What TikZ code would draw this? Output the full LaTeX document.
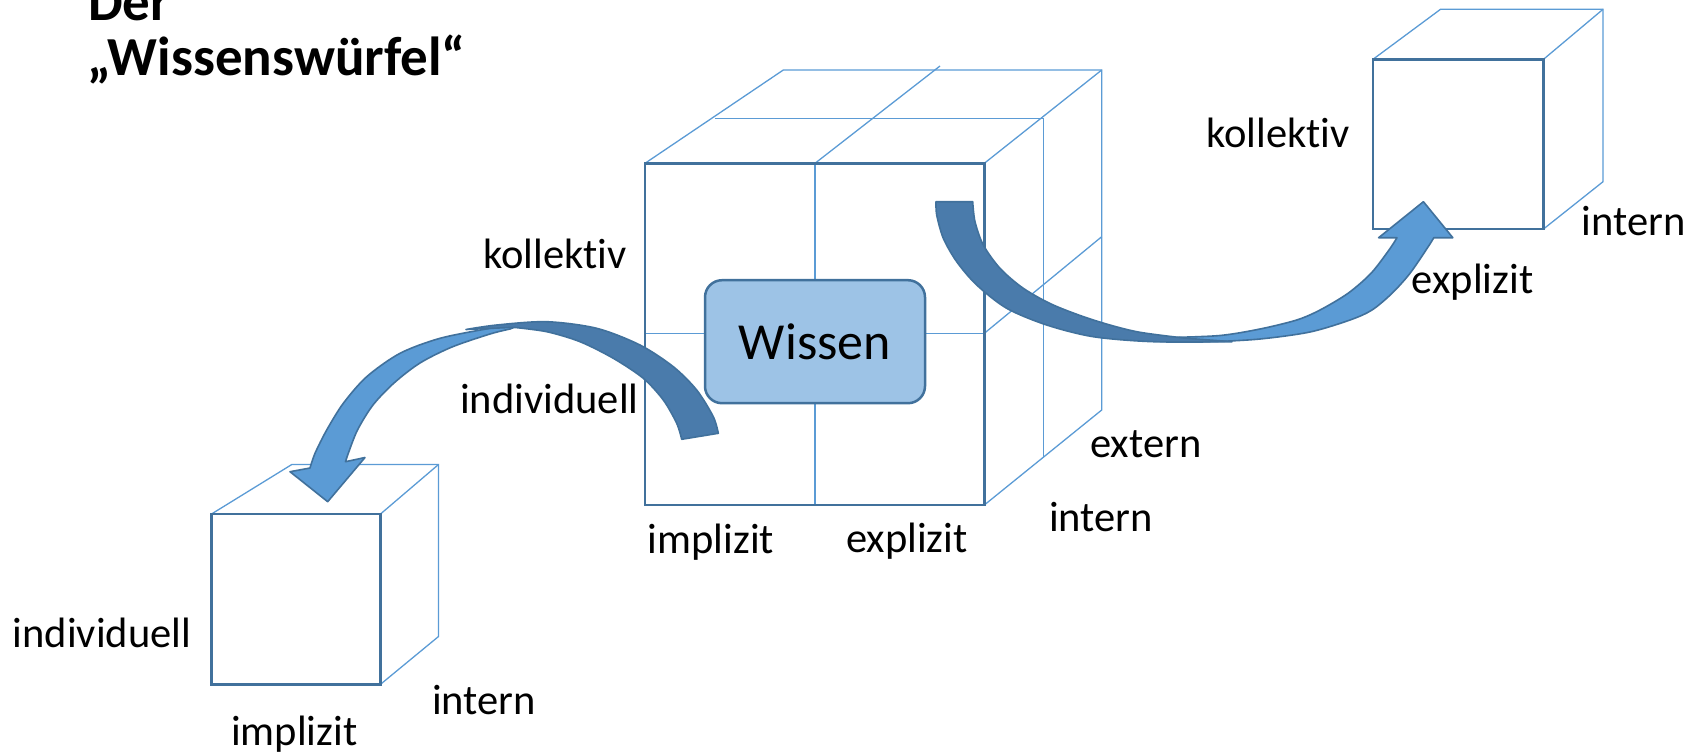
\documentclass[tikz,border=0pt]{standalone}
\usepackage{fontspec}
\setmainfont{Carlito}[Ligatures={NoCommon}]
\usepackage{xcolor}

\definecolor{edgeblue}{HTML}{41719C}
\definecolor{thinblue}{HTML}{5B9BD5}
\definecolor{boxblue}{HTML}{9DC3E6}
\definecolor{arrowlight}{HTML}{5B9BD5}
\definecolor{arrowdark}{HTML}{4A7BAB}

\tikzset{
  frontface/.style={draw=edgeblue, line width=2.5pt},
  backline/.style={draw=thinblue, line width=1.3pt},
  lbl/.style={anchor=base west, inner sep=0pt, font=\fontsize{42.5}{51}\selectfont},
  lightpart/.style={fill=arrowlight, draw=edgeblue, line width=1.6pt, line join=round},
  darkpart/.style={fill=arrowdark, draw=edgeblue, line width=1.6pt, line join=round}
}

\begin{document}
\begin{tikzpicture}[x=1pt,y=-1pt]
\useasboundingbox (0,0) rectangle (1697,753);
% title
\node[lbl, font=\fontsize{55}{62}\selectfont\bfseries] (title1) at (88,20.7) {Der};
\node[lbl, font=\fontsize{55}{62}\selectfont\bfseries] (title2) at (87,75) {„Wissenswürfel“};
% main cube
\def\mainfront{(645,163.3) rectangle (984.3,505)}
  \draw[backline] (645,163.3) -- (783.3,70) -- (1101.7,70) -- (1101.7,410) -- (984.3,505);
  \draw[backline] (715,118.3) -- (1043.3,118.3) -- (1043.3,458.3);
  \draw[backline] (984.3,163.3) -- (1101.7,70);
  \draw[backline] (815,163.3) -- (940,66);
  \draw[backline] (984.3,333.3) -- (1101.7,236.7);
  \draw[backline] (815,163.3) -- (815,505) (645,333.3) -- (984.3,333.3);
  \draw[frontface] \mainfront;
% right cube
  \draw[backline] (1373,59.3) -- (1440.5,9.3) -- (1603,9.3) -- (1603,181.7) -- (1543.5,229);
  \draw[backline] (1543.5,59.3) -- (1603,9.3);
  \draw[frontface] (1373,59.3) rectangle (1543.5,229);
% left cube
  \draw[backline] (211.5,514) -- (291.8,464.5) -- (438.5,464.5) -- (438.5,636.5) -- (380.5,684.3);
  \draw[backline] (380.5,514) -- (438.5,464.5);
  \draw[frontface] (211.5,514) rectangle (380.5,684.3);
% knowledge box
\node[draw=edgeblue, line width=2.5pt, fill=boxblue, rounded corners=17pt,
      minimum width=220pt, minimum height=123pt,
      font=\fontsize{52}{60}\selectfont] (wissen) at (815,341.7) {Wissen};
% arrow to the left cube
\filldraw[lightpart] plot[smooth] coordinates {(525,323) (490,328.3) (440,338.3) (400,353.3) (366.7,376.7) (343.3,403.3) (326.7,430) (315,453.3) (310,468)}
  -- (290,471.7) -- (327.7,501.7) -- (365,457.5)
  -- plot[smooth] coordinates {(345.5,461.7) (348.3,453.3) (357.5,430) (373,405) (394,383) (420,363) (452,347) (490,334) (510,329)} -- cycle;
\filldraw[darkpart] plot[smooth] coordinates {(718.3,433.3) (713.3,416.7) (696.7,390) (673.3,366.7) (640,345) (596.7,328.3) (546.7,321.7) (496.7,325) (466,329.5)}
  -- plot[smooth] coordinates {(513.3,327.3) (546.7,331.7) (580,341.7) (613.3,358.3) (643.3,378.3) (663.3,400) (676.7,423.3) (681.7,439.3)} -- cycle;
% arrow to the right cube
\filldraw[lightpart] plot[smooth] coordinates {(1170,337.5) (1220,335.5) (1260,329) (1296.7,320) (1320,310) (1348,293.3) (1371,273.3) (1389,250) (1397,237.7)}
  -- (1378.6,237.7) -- (1423.4,201.7) -- (1452.8,237.7)
  -- plot[smooth] coordinates {(1433.8,237.7) (1428,247) (1410,273.3) (1392,293.3) (1372,310) (1350,320) (1310,332) (1260,339) (1210,341.7) (1160,341.5)} -- cycle;
\filldraw[darkpart] plot[smooth] coordinates {(936,201.7) (936.7,215) (943.3,238.3) (956.7,261.7) (976.7,285) (1006.7,308.3) (1046.7,325) (1093.3,336.7) (1153.3,341.7) (1232,341.7)}
  -- plot[smooth] coordinates {(1186.7,338.3) (1136.7,331.7) (1093.3,320) (1053.3,305) (1023.3,288.3) (1000,268.3) (983.3,245) (975,221.7) (972.7,201.7)} -- cycle;
% labels
\node[lbl] (kolMain) at (483,268.3) {kollektiv};
\node[lbl] (indMain) at (460,413.3) {individuell};
\node[lbl] (impMain) at (647.7,553.3) {implizit};
\node[lbl] (expMain) at (846,552) {explizit};
\node[lbl] (intMain) at (1048.8,531) {intern};
\node[lbl] (extMain) at (1090,457.3) {extern};
\node[lbl] (kolRight) at (1206,147.7) {kollektiv};
\node[lbl] (intRight) at (1581.7,235) {intern};
\node[lbl] (expRight) at (1411.7,293.3) {explizit};
\node[lbl] (indLeft) at (12.5,647.7) {individuell};
\node[lbl] (impLeft) at (231,745) {implizit};
\node[lbl] (intLeft) at (432,714) {intern};
\end{tikzpicture}
\end{document}
